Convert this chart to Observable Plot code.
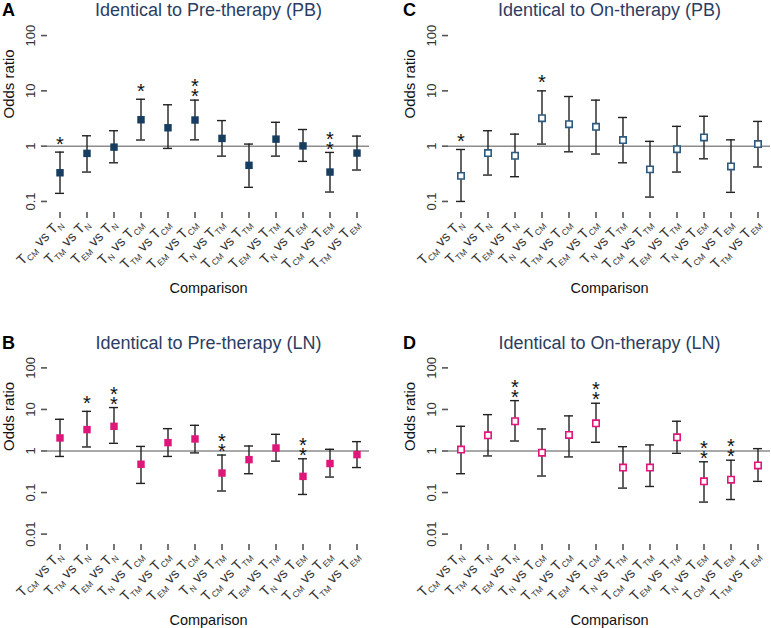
<!DOCTYPE html>
<html><head><meta charset="utf-8">
<script src="https://cdn.jsdelivr.net/npm/d3@7"></script>
<script src="https://cdn.jsdelivr.net/npm/@observablehq/plot@0.6"></script>
<style>
body{margin:0;background:#fff;overflow:hidden;font-family:"Liberation Sans",Arial,sans-serif}
#root{position:relative;width:771px;height:628px;overflow:hidden}
.panel{position:absolute}
</style></head><body><div id="root"></div>
<script>
const comparisons = ["T_CM vs T_N","T_TM vs T_N","T_EM vs T_N","T_N vs T_CM","T_TM vs T_CM","T_EM vs T_CM","T_N vs T_TM","T_CM vs T_TM","T_EM vs T_TM","T_N vs T_EM","T_CM vs T_EM","T_TM vs T_EM"];

// A: Identical to Pre-therapy (PB)
const orA = [0.33,0.74,0.96,3.0,2.15,2.97,1.38,0.45,1.34,1.01,0.34,0.75];
const loA = [0.14,0.34,0.50,1.29,0.91,1.30,0.66,0.18,0.66,0.53,0.148,0.37];
const hiA = [0.78,1.54,1.9,7.05,5.6,6.8,2.9,1.09,2.7,2.0,0.77,1.52];
const sigA = ["*","","","*","","**","","","","","**",""];

// C: Identical to On-therapy (PB)
const orC = [0.29,0.75,0.67,3.2,2.5,2.24,1.29,0.38,0.88,1.44,0.43,1.09];
const loC = [0.10,0.30,0.28,1.09,0.79,0.72,0.50,0.12,0.34,0.59,0.146,0.42];
const hiC = [0.87,1.9,1.65,10,7.9,6.8,3.3,1.22,2.28,3.47,1.30,2.8];
const sigC = ["*","","","*","","","","","","","",""];

// B: Identical to Pre-therapy (LN)
const orB = [2.06,3.27,3.93,0.48,1.59,1.95,0.295,0.62,1.18,0.245,0.50,0.82];
const loB = [0.74,1.25,1.53,0.166,0.74,0.90,0.109,0.284,0.57,0.09,0.236,0.40];
const hiB = [5.8,9.0,11.1,1.29,3.45,4.15,0.80,1.32,2.52,0.65,1.1,1.68];
const sigB = ["","*","**","","","","**","","","**","",""];

// D: Identical to On-therapy (LN)
const orD = [1.08,2.38,5.2,0.91,2.43,4.64,0.40,0.40,2.13,0.186,0.204,0.45];
const loD = [0.284,0.76,1.74,0.25,0.72,1.62,0.128,0.14,0.88,0.059,0.068,0.186];
const hiD = [3.93,7.5,16.3,3.39,7.0,14.1,1.27,1.4,5.2,0.55,0.60,1.14];
const sigD = ["","","**","","","**","","","","**","**",""];

const ticksPB = [0.1, 1, 10, 100];
const ticksLN = [0.01, 0.1, 1, 10, 100];

const navy = "#173d60";
const steel = "#2d5a80";
const magenta = "#e0177b";
const titleColor = "#2b3d62";

function subscriptify(svg) {
  d3.select(svg).selectAll('g[aria-label="x-axis tick label"] text').each(function () {
    const s = this.textContent;
    const t = d3.select(this);
    t.text(null);
    const parts = s.split(/(_\w+)/).filter(p => p !== "");
    let down = false;
    for (const p of parts) {
      if (p.startsWith("_")) {
        t.append("tspan").attr("font-size", 8.5).attr("dy", 3).text(p.slice(1));
        down = true;
      } else {
        const sp = t.append("tspan").text(p);
        if (down) { sp.attr("dy", -3); down = false; }
      }
    }
  });
}

function panel({letter, title, or, lo, hi, sig, domain, ticks, color, filled, left, top, plotHeight}) {
  const rows = comparisons.map((c, i) => ({c, or: or[i], lo: lo[i], hi: hi[i], sig: sig[i]}));
  const singles = rows.filter(d => d.sig.length === 1);
  const doubles = rows.filter(d => d.sig.length === 2);
  const chart = Plot.plot({
    width: 371,
    height: 24 + plotHeight + 82,
    marginLeft: 47, marginRight: 2, marginTop: 24, marginBottom: 82,
    style: {fontFamily: '"Liberation Sans", Arial, sans-serif', color: "#333", background: "white", overflow: "visible"},
    x: {type: "band", domain: comparisons, paddingInner: 0.67, paddingOuter: 0.238},
    y: {type: "log", domain},
    marks: [
      Plot.ruleY([1], {stroke: "#8c8c8c", strokeWidth: 1.5}),
      Plot.axisY({ticks, tickFormat: d => String(d), tickRotate: -90, tickSize: 6, tickPadding: 7, fontSize: 13, label: null, line: true, strokeWidth: 1.6, stroke: "#555", fill: "#333"}),
      Plot.axisX({tickRotate: -45, tickSize: 6, tickPadding: 3, fontSize: 14, label: null, line: true, strokeWidth: 1.6, stroke: "#555", fill: "#333"}),
      Plot.ruleX(rows, {x: "c", y1: "lo", y2: "hi", stroke: "#222", strokeWidth: 1.4}),
      Plot.tickY(rows, {x: "c", y: "lo", stroke: "#222", strokeWidth: 1.4}),
      Plot.tickY(rows, {x: "c", y: "hi", stroke: "#222", strokeWidth: 1.4}),
      filled
        ? Plot.dot(rows, {x: "c", y: "or", symbol: "square", r: 4.2, fill: color})
        : Plot.dot(rows, {x: "c", y: "or", symbol: "square", r: 3.6, fill: "white", stroke: color, strokeWidth: 1.6}),
      Plot.text(singles, {x: "c", y: "hi", text: "sig", fontSize: 20, lineAnchor: "middle", dy: -8, fill: "#111"}),
      Plot.text(doubles, {x: "c", y: "hi", text: d => d.sig.split("").join("\n"), lineHeight: 0.5, fontSize: 20, lineAnchor: "middle", dy: -5, fill: "#111"}),
      Plot.text([title], {frameAnchor: "top", lineAnchor: "middle", dy: -14, fontSize: 18, fill: titleColor}),
      Plot.text([letter], {frameAnchor: "top-left", lineAnchor: "middle", dx: -39, dy: -14, fontSize: 18, fontWeight: "bold", fill: "#000", textAnchor: "middle"}),
      Plot.text(["Odds ratio"], {frameAnchor: "left", lineAnchor: "middle", dx: -38.5, rotate: -90, fontSize: 15, fill: "#111"}),
      Plot.text(["Comparison"], {frameAnchor: "bottom", lineAnchor: "middle", dy: 76, fontSize: 14.5, fill: "#111"})
    ]
  });
  subscriptify(chart);
  chart.classList.add("panel");
  chart.style.left = left + "px";
  chart.style.top = top + "px";
  document.getElementById("root").appendChild(chart);
}

panel({letter: "A", title: "Identical to Pre-therapy (PB)", or: orA, lo: loA, hi: hiA, sig: sigA,
  domain: [Math.pow(10, -1.2), Math.pow(10, 2.2)], ticks: ticksPB, color: navy, filled: true, left: 0, top: 0, plotHeight: 188});
panel({letter: "C", title: "Identical to On-therapy (PB)", or: orC, lo: loC, hi: hiC, sig: sigC,
  domain: [Math.pow(10, -1.2), Math.pow(10, 2.2)], ticks: ticksPB, color: steel, filled: false, left: 401, top: 0, plotHeight: 188});
panel({letter: "B", title: "Identical to Pre-therapy (LN)", or: orB, lo: loB, hi: hiB, sig: sigB,
  domain: [Math.pow(10, -2.25), Math.pow(10, 2.25)], ticks: ticksLN, color: magenta, filled: true, left: 0, top: 333, plotHeight: 187});
panel({letter: "D", title: "Identical to On-therapy (LN)", or: orD, lo: loD, hi: hiD, sig: sigD,
  domain: [Math.pow(10, -2.25), Math.pow(10, 2.25)], ticks: ticksLN, color: magenta, filled: false, left: 401, top: 333, plotHeight: 187});
</script>
</body></html>
